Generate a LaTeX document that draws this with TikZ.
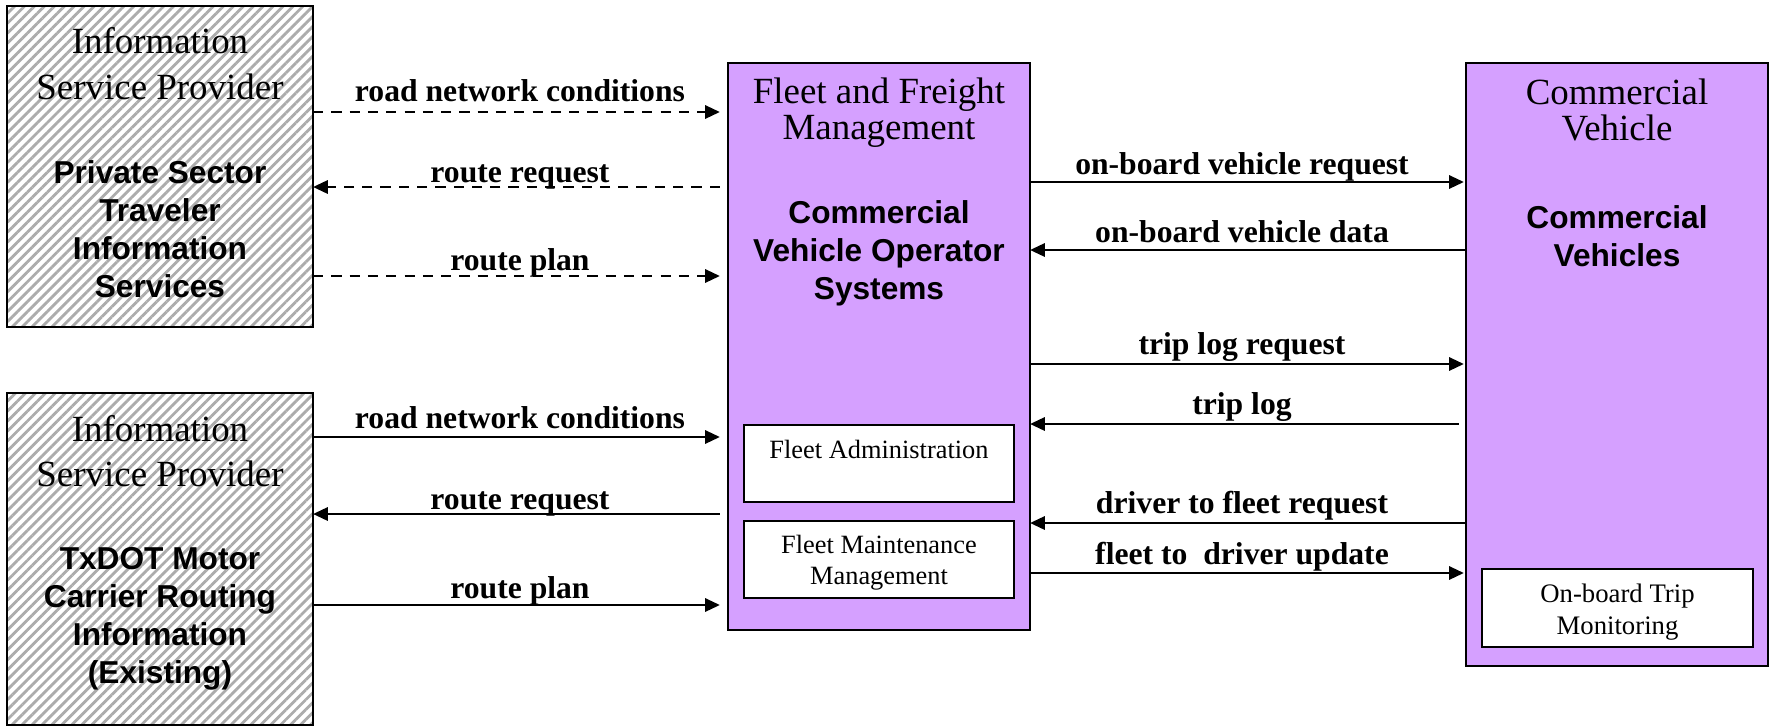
\documentclass[tikz,border=0pt]{standalone}
\usepackage{fontspec}
\setmainfont{Liberation Serif}
\setsansfont{Liberation Sans}
\usetikzlibrary{arrows.meta,patterns.meta}
\definecolor{cvopurple}{RGB}{213,160,255}
\tikzset{
  hatchbox/.style={draw,line width=0.7pt,outer sep=0pt,inner sep=0pt,
    pattern={Lines[angle=45,distance=2pt,line width=0.8pt]},pattern color=gray!65},
  subsys/.style={draw,line width=0.7pt,outer sep=0pt,inner sep=0pt,fill=cvopurple},
  module/.style={draw,line width=0.7pt,outer sep=0pt,inner sep=0pt,fill=white},
  systitle/.style={anchor=north,inner sep=0pt,align=center,font=\fontsize{10.5}{12}\selectfont},
  sysname/.style={anchor=north,inner sep=0pt,align=center,font=\sffamily\bfseries\fontsize{9}{10.8}\selectfont},
  modtext/.style={anchor=north,inner sep=0pt,align=center,font=\fontsize{7.5}{9}\selectfont},
  flowlabel/.style={anchor=base,inner sep=0pt,font=\bfseries\fontsize{9}{10}\selectfont},
  flow/.style={line width=0.6pt,-{Triangle[length=4.2pt,width=3.8pt]}},
  optional/.style={dash pattern=on 2.9pt off 2.3pt}
}
\begin{document}
\begin{tikzpicture}[x=0.01cm,y=-0.01cm]
\useasboundingbox (0,0) rectangle (1776,727);
% information service providers
\node[hatchbox,minimum width=3.06cm,minimum height=3.21cm] (isp1) at (160,166.5) {};
\node[hatchbox,minimum width=3.06cm,minimum height=3.32cm] (isp2) at (160,559) {};
\node[systitle,font=\fontsize{10.5}{13}\selectfont] (isp1title) at (160,27) {Information\\Service Provider};
\node[sysname] (isp1name) at (160,159.5) {Private Sector\\Traveler\\Information\\Services};
\node[systitle,font=\fontsize{10.5}{12.7}\selectfont] (isp2title) at (160,415) {Information\\Service Provider};
\node[sysname] (isp2name) at (160,547) {TxDOT Motor\\Carrier Routing\\Information\\(Existing)};
% fleet and freight management
\node[subsys,minimum width=3.02cm,minimum height=5.67cm] (ffm) at (879,346.5) {};
\node[module,minimum width=2.70cm,minimum height=0.77cm] (fadmin) at (879,463.5) {};
\node[module,minimum width=2.70cm,minimum height=0.77cm] (fmaint) at (879,559.5) {};
\node[systitle,font=\fontsize{10.5}{10.35}\selectfont] (ffmtitle) at (879,77) {Fleet and Freight\\Management};
\node[sysname] (ffmname) at (879,200) {Commercial\\Vehicle Operator\\Systems};
\node[modtext] (fadmintext) at (879,439) {Fleet Administration};
\node[modtext] (fmainttext) at (879,534) {Fleet Maintenance\\Management};
% commercial vehicle
\node[subsys,minimum width=3.02cm,minimum height=6.03cm] (cv) at (1617,364.5) {};
\node[module,minimum width=2.71cm,minimum height=0.78cm] (otm) at (1617.5,608) {};
\node[systitle,font=\fontsize{10.5}{10.35}\selectfont] (cvtitle) at (1617,78) {Commercial\\Vehicle};
\node[sysname] (cvname) at (1617,205) {Commercial\\Vehicles};
\node[modtext,font=\fontsize{7.6}{9.1}\selectfont] (otmtext) at (1617.5,583) {On-board Trip\\Monitoring};
% flow labels
\node[flowlabel] (lroad1) at (520,101) {road network conditions};
\node[flowlabel] (lreq1) at (520,182) {route request};
\node[flowlabel] (lplan1) at (520,270) {route plan};
\node[flowlabel] (lroad2) at (520,428) {road network conditions};
\node[flowlabel] (lreq2) at (520,509) {route request};
\node[flowlabel] (lplan2) at (520,598) {route plan};
\node[flowlabel] (lobreq) at (1242,174) {on-board vehicle request};
\node[flowlabel] (lobdata) at (1242,242) {on-board vehicle data};
\node[flowlabel] (ltripreq) at (1242,354) {trip log request};
\node[flowlabel] (ltrip) at (1242,414) {trip log};
\node[flowlabel] (ldriver) at (1242,513) {driver to fleet request};
\node[flowlabel] (lfleet) at (1242,564) {fleet to~ driver update};
% flows
\draw[flow,optional,shorten >=2.3pt] (isp1.east |- 0,112) -- (ffm.west |- 0,112);
\draw[flow,optional,shorten <=2.3pt] (ffm.west |- 0,187) -- (isp1.east |- 0,187);
\draw[flow,optional,shorten >=2.3pt] (isp1.east |- 0,276) -- (ffm.west |- 0,276);
\draw[flow,shorten >=2.3pt] (isp2.east |- 0,437) -- (ffm.west |- 0,437);
\draw[flow,shorten <=2.3pt] (ffm.west |- 0,514) -- (isp2.east |- 0,514);
\draw[flow,shorten >=2.3pt] (isp2.east |- 0,605) -- (ffm.west |- 0,605);
\draw[flow,shorten >=0.6pt] (ffm.east |- 0,182) -- (cv.west |- 0,182);
\draw[flow] (cv.west |- 0,250) -- (ffm.east |- 0,250);
\draw[flow,shorten >=0.6pt] (ffm.east |- 0,364) -- (cv.west |- 0,364);
\draw[flow,shorten <=2pt] (cv.west |- 0,424) -- (ffm.east |- 0,424);
\draw[flow] (cv.west |- 0,523) -- (ffm.east |- 0,523);
\draw[flow,shorten >=0.6pt] (ffm.east |- 0,573) -- (cv.west |- 0,573);
\end{tikzpicture}
\end{document}
